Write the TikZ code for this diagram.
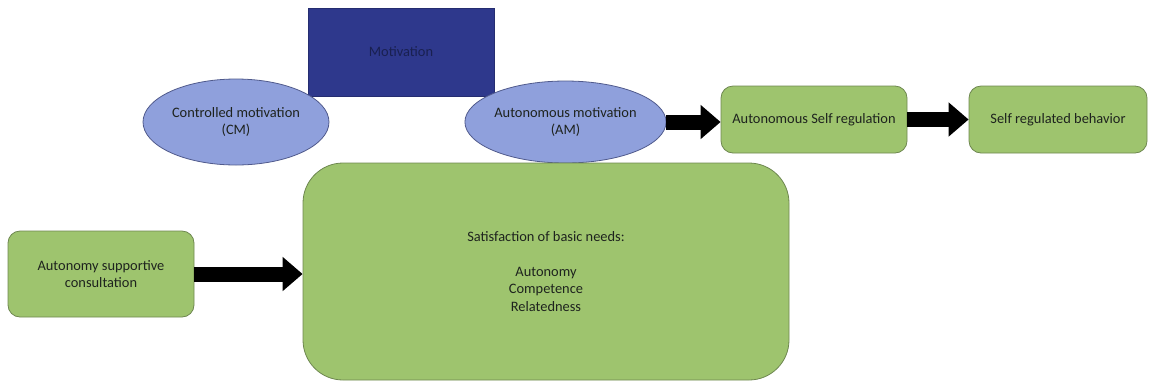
\documentclass[tikz,border=0pt]{standalone}
\usepackage{fontspec}
\setmainfont{Carlito}
\usetikzlibrary{shapes.geometric,arrows.meta,shadows}
\definecolor{boxgreen}{RGB}{158,196,110}
\definecolor{boxedge}{RGB}{110,135,80}
\definecolor{ellfill}{RGB}{143,160,220}
\definecolor{elledge}{RGB}{80,90,140}
\definecolor{navy}{RGB}{46,56,140}
\definecolor{navytext}{RGB}{25,32,80}
\definecolor{txt}{RGB}{30,35,30}
\tikzset{
  greenbox/.style={draw=boxedge, line width=0.8pt, fill=boxgreen, rounded corners=12pt,
    align=center, text=txt, font=\fontsize{14.4}{17.4}\selectfont, inner sep=0pt},
  motell/.style={ellipse, draw=elledge, line width=0.8pt, fill=ellfill, align=center,
    text=txt, font=\fontsize{14.4}{17.4}\selectfont, inner sep=0pt},
  blockarrow/.style={line width=15pt, draw=black, -{Triangle[length=20pt,width=33pt]}}
}
\begin{document}
\begin{tikzpicture}[x=1pt,y=-1pt]
\useasboundingbox (0,0) rectangle (1150,384);
% Motivation
\node[draw=navy!80!black, fill=navy, line width=0.6pt, minimum width=186pt, minimum height=88pt,
  inner sep=0pt, text=navytext, font=\fontsize{14.4}{17.4}\selectfont] (mot) at (401,52) {Motivation};
% ellipses
\node[motell, minimum width=186pt, minimum height=86pt] (cm) at (236,122) {Controlled motivation\\(CM)};
\node[motell, minimum width=185pt, minimum height=82pt] (am) at (565.5,122) {Autonomous motivation\\(AM)};
% green boxes
\node[greenbox, minimum width=186pt, minimum height=67pt] (asr) at (814,119.5) {Autonomous Self regulation};
\node[greenbox, minimum width=178pt, minimum height=67pt] (srb) at (1058,119.5) {Self regulated behavior};
\node[greenbox, minimum width=186pt, minimum height=86pt] (asc) at (101,274) {Autonomy supportive\\consultation};
\node[greenbox, rounded corners=40pt, minimum width=486pt, minimum height=217pt] (sat) at (546,271.5)
  {Satisfaction of basic needs:\\[17.4pt]Autonomy\\Competence\\Relatedness};
% arrows
\draw[blockarrow] (am.east) -- (am.east -| asr.west);
\draw[blockarrow] (asr.east) -- (srb.west);
\draw[blockarrow] (asc.east) -- (asc.east -| sat.west);
\end{tikzpicture}
\end{document}
